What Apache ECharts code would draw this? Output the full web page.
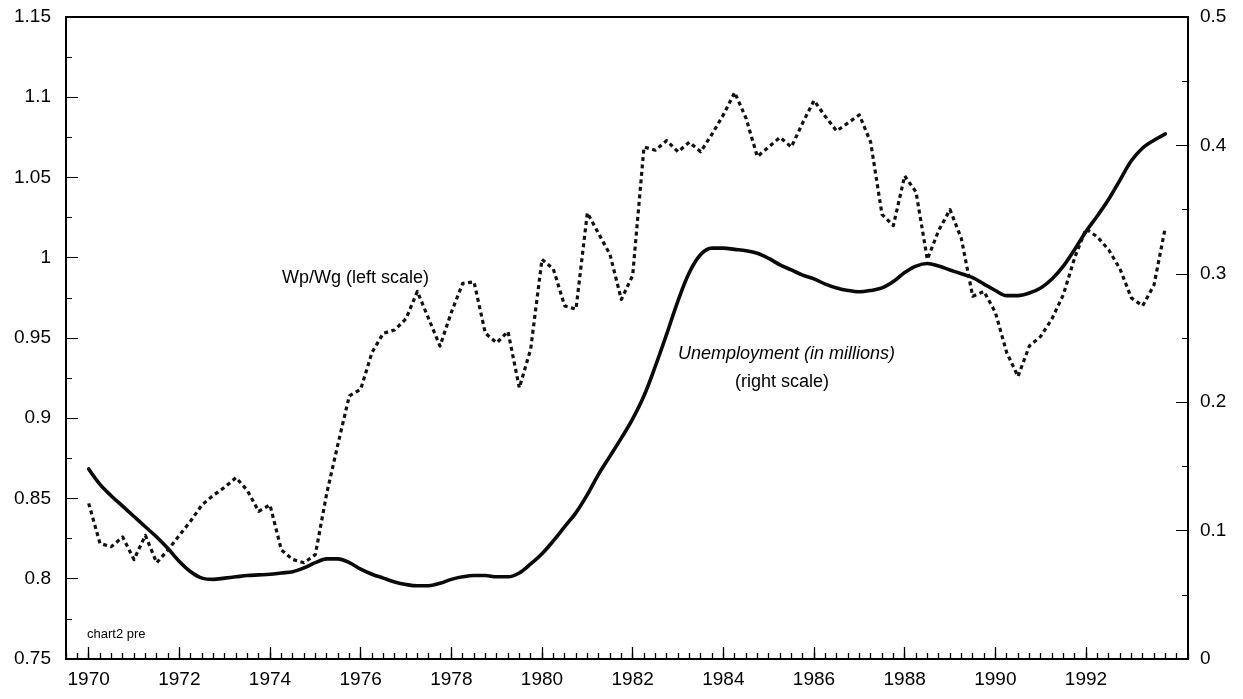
<!DOCTYPE html>
<html>
<head>
<meta charset="utf-8">
<title>Wp/Wg and unemployment, 1970-1993</title>
<script src="https://cdn.jsdelivr.net/npm/echarts@6/dist/echarts.min.js"></script>
<style>
  html, body { margin: 0; padding: 0; background: #fff; }
  #chart { width: 1243px; height: 699px; }
</style>
</head>
<body>
<div id="chart"></div>
<script>
// Quarterly observations, first quarter of 1970 through last quarter of 1993
const firstYear = 1970;

// Wp/Wg ratio (left scale)
const wageRatio = [
  0.847, 0.822, 0.820, 0.826,  0.812, 0.827, 0.810, 0.818,
  0.827, 0.836, 0.846, 0.852,  0.857, 0.863, 0.855, 0.842,
  0.846, 0.818, 0.812, 0.810,  0.815, 0.853, 0.884, 0.914,
  0.918, 0.941, 0.953, 0.955,  0.962, 0.979, 0.962, 0.945,
  0.966, 0.984, 0.985, 0.953,  0.947, 0.954, 0.919, 0.943,
  0.999, 0.993, 0.970, 0.968,  1.028, 1.015, 1.002, 0.974,
  0.989, 1.069, 1.067, 1.073,  1.066, 1.072, 1.066, 1.077,
  1.089, 1.103, 1.087, 1.063,  1.069, 1.075, 1.069, 1.084,
  1.098, 1.088, 1.079, 1.084,  1.089, 1.072, 1.027, 1.020,
  1.051, 1.041, 0.999, 1.017,  1.030, 1.012, 0.976, 0.979,
  0.966, 0.941, 0.926, 0.945,  0.951, 0.962, 0.977, 1.000,
  1.018, 1.013, 1.005, 0.993,  0.975, 0.970, 0.983, 1.019
];

// Unemployment in millions (right scale)
const unemployment = [
  0.148, 0.136, 0.127, 0.119,  0.111, 0.103, 0.095, 0.086,
  0.076, 0.068, 0.063, 0.062,  0.063, 0.064, 0.065, 0.0655,
  0.066, 0.067, 0.068, 0.071,  0.075, 0.078, 0.078, 0.075,
  0.070, 0.066, 0.063, 0.060,  0.058, 0.057, 0.057, 0.059,
  0.062, 0.064, 0.065, 0.065,  0.064, 0.064, 0.067, 0.074,
  0.082, 0.092, 0.103, 0.114,  0.128, 0.144, 0.158, 0.172,
  0.187, 0.205, 0.228, 0.253,  0.279, 0.301, 0.315, 0.320,
  0.320, 0.319, 0.318, 0.316,  0.312, 0.307, 0.303, 0.299,
  0.296, 0.292, 0.289, 0.287,  0.286, 0.287, 0.289, 0.294,
  0.301, 0.306, 0.308, 0.306,  0.303, 0.300, 0.297, 0.292,
  0.287, 0.283, 0.283, 0.285,  0.289, 0.296, 0.306, 0.319,
  0.333, 0.345, 0.358, 0.373,  0.388, 0.398, 0.404, 0.409
];

// Labelled years on the time axis
const yearTicks = [1970, 1972, 1974, 1976, 1978, 1980, 1982, 1984, 1986, 1988, 1990, 1992];

const toPairs = arr => arr.map((v, i) => [firstYear + i * 0.25, v]);

const FONT = '"Liberation Sans", Arial, Helvetica, sans-serif';
const INK = '#000';

const chart = echarts.init(document.getElementById('chart'), null, { renderer: 'canvas' });

chart.setOption({
  animation: false,
  backgroundColor: '#fff',
  grid: {
    left: 66, right: 55, top: 17, bottom: 40,
    show: true, borderColor: INK, borderWidth: 2, backgroundColor: 'transparent'
  },
  xAxis: [
    {
      // quarter ticks along the base line
      type: 'value', min: 1969.5, max: 1994.25, interval: 0.25, position: 'bottom',
      axisLine: { show: true, onZero: false, lineStyle: { color: INK, width: 2 } },
      axisTick: { show: true, inside: true, length: 6, lineStyle: { color: INK, width: 1.3 } },
      axisLabel: { show: false },
      splitLine: { show: false }
    },
    {
      // tall ticks and labels every second year
      type: 'value', min: 1969.5, max: 1994.25, position: 'bottom',
      axisLine: { show: false, onZero: false },
      axisTick: { show: true, inside: true, length: 12, customValues: yearTicks,
                  lineStyle: { color: INK, width: 1.3 } },
      axisLabel: { show: true, customValues: yearTicks, margin: 11,
                   formatter: v => String(v),
                   color: INK, fontFamily: FONT, fontSize: 19 },
      splitLine: { show: false }
    }
  ],
  yAxis: [
    {
      type: 'value', position: 'left', min: 0.75, max: 1.15, interval: 0.05,
      axisLine: { show: true, onZero: false, lineStyle: { color: INK, width: 2 } },
      axisTick: { show: true, inside: true, length: 12, lineStyle: { color: INK, width: 1 } },
      minorTick: { show: true, splitNumber: 2, length: 6, lineStyle: { color: INK, width: 1 } },
      axisLabel: { margin: 15, color: INK, fontFamily: FONT, fontSize: 19,
                   padding: [6, 0, 0, 0],
                   formatter: v => String(+v.toFixed(2)) },
      splitLine: { show: false }
    },
    {
      type: 'value', position: 'right', min: 0, max: 0.5, interval: 0.1,
      axisLine: { show: true, onZero: false, lineStyle: { color: INK, width: 2 } },
      axisTick: { show: true, inside: true, length: 12, lineStyle: { color: INK, width: 1 } },
      minorTick: { show: true, splitNumber: 2, length: 6, lineStyle: { color: INK, width: 1 } },
      axisLabel: { margin: 12, color: INK, fontFamily: FONT, fontSize: 19,
                   formatter: v => String(+v.toFixed(2)) },
      splitLine: { show: false }
    }
  ],
  series: [
    {
      name: 'Wp/Wg',
      type: 'line', xAxisIndex: 0, yAxisIndex: 0,
      data: toPairs(wageRatio),
      showSymbol: false, symbol: 'none',
      lineStyle: { color: '#111', width: 3.2, type: [4, 3.5], cap: 'butt', join: 'round' },
      z: 3
    },
    {
      name: 'Unemployment',
      type: 'line', xAxisIndex: 0, yAxisIndex: 1,
      data: toPairs(unemployment),
      smooth: 0.35, showSymbol: false, symbol: 'none',
      lineStyle: { color: '#0a0a0a', width: 3.6, cap: 'round', join: 'round' },
      z: 2
    }
  ],
  graphic: [
    { type: 'text', left: 282, top: 269, z: 10,
      style: { text: 'Wp/Wg (left scale)', fill: INK, font: '18px ' + FONT } },
    { type: 'text', left: 678, top: 345, z: 10,
      style: { text: 'Unemployment (in millions)', fill: INK, font: 'italic 18px ' + FONT } },
    { type: 'text', left: 735, top: 373, z: 10,
      style: { text: '(right scale)', fill: INK, font: '18px ' + FONT } },
    { type: 'text', left: 87, top: 628, z: 10,
      style: { text: 'chart2 pre', fill: INK, font: '13px ' + FONT } }
  ]
});
</script>
</body>
</html>
